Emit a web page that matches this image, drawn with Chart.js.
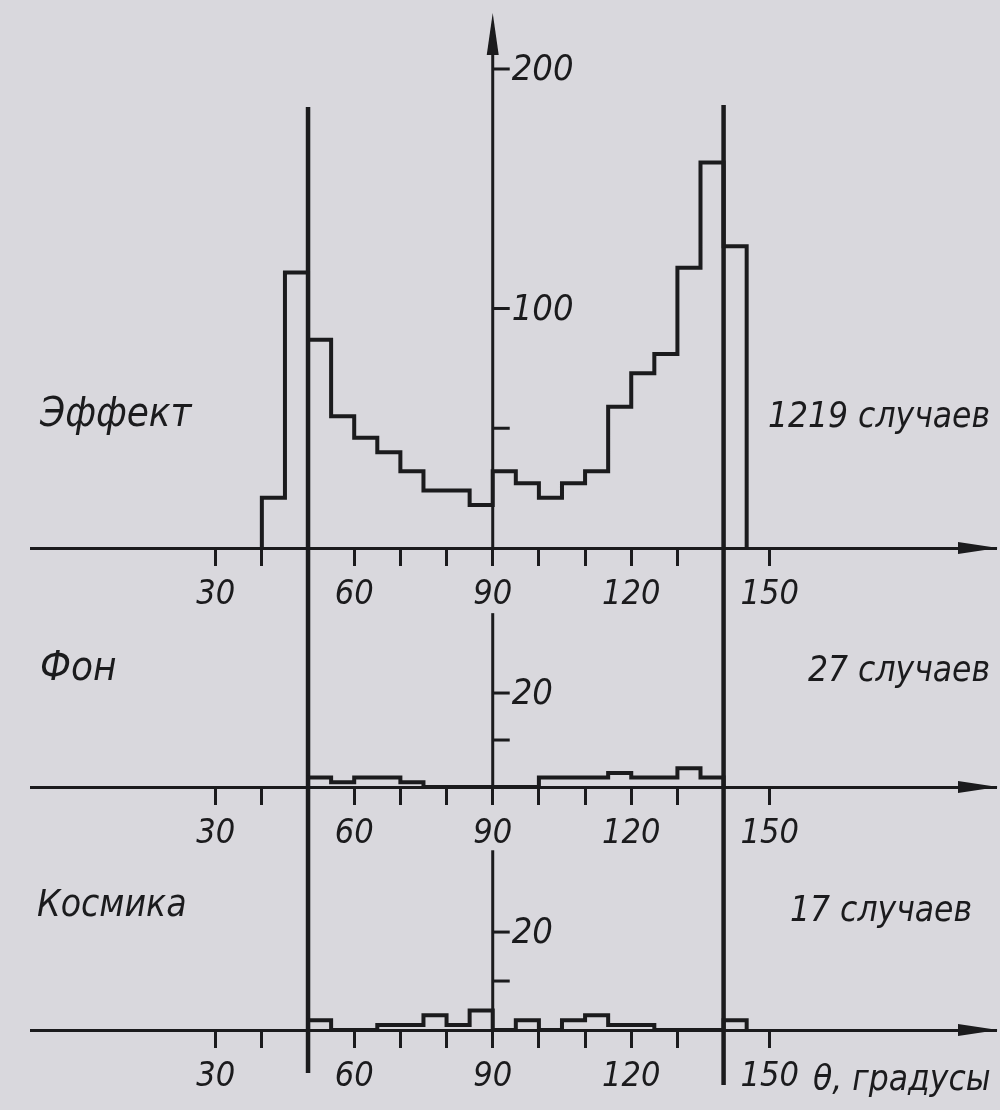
<!DOCTYPE html>
<html>
<head>
<meta charset="utf-8">
<script src="https://cdn.jsdelivr.net/npm/chart.js@4.4.1/dist/chart.umd.min.js"></script>
<style>
  body { margin: 0; background: #d9d8dd; }
  #wrap { position: relative; width: 1000px; height: 1110px; }
  #wrap canvas { position: absolute; left: 0; top: 0; }
</style>
</head>
<body>
<div id="wrap">
  <canvas id="effect-chart" width="1000" height="1110"></canvas>
  <canvas id="fon-chart" width="1000" height="1110"></canvas>
  <canvas id="cosmic-chart" width="1000" height="1110"></canvas>
</div>
<script>
var binWidth = 5;
var effectStart = 40;
var effectCounts = [21, 115, 87, 55, 46, 40, 32, 24, 24, 18, 32, 27, 21, 27, 32, 59, 73, 81, 117, 161, 126];
var fonStart = 50;
var fonCounts = [2, 1, 2, 2, 1, 0, 0, 0, 0, 0, 2, 2, 2, 3, 2, 2, 4, 2];
var cosmicStart = 50;
var cosmicCounts = [2, 0, 0, 1, 1, 3, 1, 4, 0, 2, 0, 2, 3, 1, 1, 0, 0, 0, 2];

var xTicks = [30, 40, 50, 60, 70, 80, 90, 100, 110, 120, 130, 140, 150];
var xLabelled = [30, 60, 90, 120, 150];
var guideAngles = [50, 140];

var effectYTicks = [50, 100, 200];
var effectYLabels = ["", "100", "200"];
var smallYTicks = [10, 20];
var smallYLabels = ["", "20"];

var panelNames = ["Эффект", "Фон", "Космика"];
var panelTotals = ["1219 случаев", "27 случаев", "17 случаев"];
var axisName = "θ, градусы";

var ink = "#1b1b1d";
var fontFamily = "'Liberation Sans Narrow', 'DejaVu Sans Condensed', 'Liberation Sans', sans-serif";
var axisH = 72;

// outline of a histogram as stepped line points
function stepPoints(start, counts) {
  var pts = [{ x: start, y: 0 }];
  for (var i = 0; i < counts.length; i++) {
    pts.push({ x: start + i * binWidth, y: counts[i] });
  }
  pts.push({ x: start + counts.length * binWidth, y: 0 });
  return pts;
}

function overlay(cfg) {
  return {
    id: "overlay",
    afterDraw: function (chart) {
      var ctx = chart.ctx;
      var xs = chart.scales.x;
      var ys = chart.scales.y;
      var area = chart.chartArea;
      var x90 = xs.getPixelForValue(90);
      var top = ys.getPixelForValue(cfg.axisTop);
      ctx.save();
      ctx.strokeStyle = ink;
      ctx.fillStyle = ink;

      // vertical axis standing at 90 degrees
      ctx.lineWidth = 3;
      ctx.beginPath();
      ctx.moveTo(x90, area.bottom);
      ctx.lineTo(x90, cfg.arrowUp ? top + 30 : top);
      ctx.stroke();
      if (cfg.arrowUp) {
        ctx.beginPath();
        ctx.moveTo(x90, top);
        ctx.lineTo(x90 - 6, top + 42);
        ctx.lineTo(x90 + 6, top + 42);
        ctx.closePath();
        ctx.fill();
      }

      // y ticks drawn to the right of the axis
      ctx.font = "italic 36px " + fontFamily;
      ctx.textAlign = "left";
      ctx.textBaseline = "middle";
      for (var i = 0; i < cfg.yTicks.length; i++) {
        var y = ys.getPixelForValue(cfg.yTicks[i]);
        ctx.beginPath();
        ctx.moveTo(x90, y);
        ctx.lineTo(x90 + 17, y);
        ctx.stroke();
        if (cfg.yLabels[i]) ctx.fillText(cfg.yLabels[i], x90 + 19, y + 2);
      }

      // arrow at the end of the angle axis
      ctx.beginPath();
      ctx.moveTo(area.right + 2, area.bottom);
      ctx.lineTo(area.right - 38, area.bottom - 6);
      ctx.lineTo(area.right - 38, area.bottom + 6);
      ctx.closePath();
      ctx.fill();

      // panel name and number of cases
      ctx.font = "italic " + cfg.nameSize + "px " + fontFamily;
      ctx.textAlign = "left";
      ctx.fillText(cfg.name, cfg.nameX, cfg.nameY);
      ctx.font = "italic 35px " + fontFamily;
      ctx.textAlign = "right";
      ctx.fillText(cfg.total, cfg.totalX, cfg.totalY);
      if (cfg.unit) {
        ctx.textAlign = "left";
        ctx.fillText(cfg.unit, cfg.unitX, cfg.unitY);
      }

      // long guide lines crossing all three panels
      if (cfg.guides) {
        ctx.lineWidth = 4.5;
        for (var g = 0; g < guideAngles.length; g++) {
          var gx = xs.getPixelForValue(guideAngles[g]);
          ctx.beginPath();
          ctx.moveTo(gx, cfg.guideTop[g]);
          ctx.lineTo(gx, cfg.guideBottom[g]);
          ctx.stroke();
        }
      }
      ctx.restore();
    }
  };
}

function makePanel(id, cfg) {
  var ctx = document.getElementById(id).getContext("2d");
  return new Chart(ctx, {
    type: "line",
    data: {
      datasets: [
        {
          data: stepPoints(cfg.start, cfg.counts),
          stepped: true,
          borderColor: ink,
          borderWidth: 4,
          borderJoinStyle: "miter",
          pointRadius: 0,
          fill: false,
        },
      ],
    },
    options: {
      responsive: false,
      animation: false,
      devicePixelRatio: 1,
      layout: {
        padding: { left: 31, right: 4, top: cfg.top, bottom: 1110 - cfg.base - axisH },
      },
      plugins: { legend: { display: false }, tooltip: { enabled: false } },
      scales: {
        x: {
          type: "linear",
          min: -10,
          max: 199,
          afterBuildTicks: function (axis) {
            axis.ticks = xTicks.map(function (v) { return { value: v }; });
          },
          afterFit: function (axis) { axis.height = axisH; },
          border: { display: true, color: ink, width: 3 },
          grid: { drawOnChartArea: false, drawTicks: true, tickLength: 18, tickWidth: 3, tickColor: ink },
          ticks: {
            autoSkip: false,
            maxRotation: 0,
            padding: 9,
            color: ink,
            font: { family: fontFamily, size: 34, style: "italic" },
            callback: function (value) {
              return xLabelled.indexOf(value) >= 0 ? String(value) : "";
            },
          },
        },
        y: { display: false, min: 0, max: cfg.yMax },
      },
    },
    plugins: [overlay(cfg)],
  });
}

var effect_chart = makePanel("effect-chart", {
  start: effectStart, counts: effectCounts,
  top: 0, base: 548, yMax: 228.8, axisTop: 223.4, arrowUp: true,
  yTicks: effectYTicks, yLabels: effectYLabels,
  name: panelNames[0], nameSize: 40, nameX: 40, nameY: 416,
  total: panelTotals[0], totalX: 990, totalY: 418,
  guides: true, guideTop: [107, 105], guideBottom: [1073, 1085],
});

var fon_chart = makePanel("fon-chart", {
  start: fonStart, counts: fonCounts,
  top: 600, base: 787, yMax: 39.8, axisTop: 37,
  yTicks: smallYTicks, yLabels: smallYLabels,
  name: panelNames[1], nameSize: 40, nameX: 40, nameY: 670,
  total: panelTotals[1], totalX: 990, totalY: 672,
});

var cosmic_chart = makePanel("cosmic-chart", {
  start: cosmicStart, counts: cosmicCounts,
  top: 840, base: 1030, yMax: 38.8, axisTop: 36.7,
  yTicks: smallYTicks, yLabels: smallYLabels,
  name: panelNames[2], nameSize: 37, nameX: 37, nameY: 906,
  total: panelTotals[2], totalX: 972, totalY: 912,
  unit: axisName, unitX: 813, unitY: 1081,
});
</script>
</body>
</html>
